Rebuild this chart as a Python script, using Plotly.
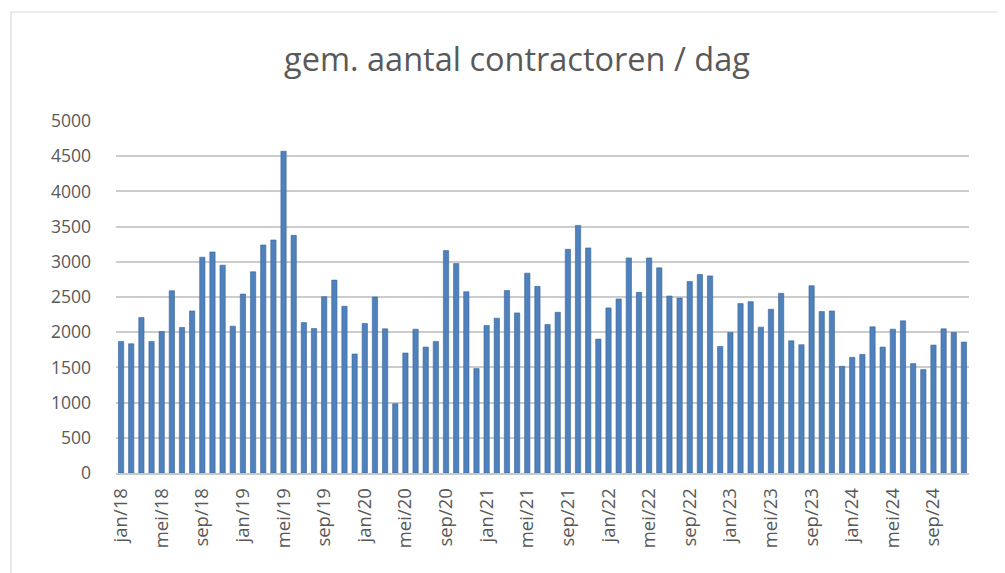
import plotly.graph_objects as go

maanden = ["jan", "feb", "mrt", "apr", "mei", "jun", "jul", "aug", "sep", "okt", "nov", "dec"]
jaren = ["18", "19", "20", "21", "22", "23", "24"]
categorieen = [f"{m}/{j}" for j in jaren for m in maanden]

waarden = [
    1869, 1836, 2208, 1869, 2010, 2589, 2067, 2302, 3065, 3140, 2952, 2086,
    2542, 2858, 3239, 3310, 4571, 3376, 2137, 2053, 2505, 2740, 2368, 1690,
    2123, 2500, 2048, 984, 1704, 2043, 1789, 1869, 3159, 2975, 2575, 1483,
    2095, 2199, 2594, 2274, 2839, 2651, 2109, 2283, 3178, 3517, 3197, 1902,
    2345, 2472, 3055, 2566, 3055, 2914, 2514, 2486, 2721, 2820, 2800, 1798,
    1996, 2406, 2434, 2072, 2326, 2552, 1878, 1822, 2660, 2293, 2302, 1516,
    1643, 1685, 2076, 1789, 2043, 2161, 1554, 1469, 1817, 2048, 1996, 1860,
]

tick_labels = categorieen[::4]
y_ticks = list(range(0, 5001, 500))

titel = "gem. aantal contractoren / dag"

# page body has an 8px margin; figure coordinates are page coordinates minus 8
OFF = 8
W, H = 997, 565
L, T = 116 - OFF, 121 - OFF
R = W - (969 - OFF)
B = H - (473 - OFF)
pw, ph = W - L - R, H - T - B

def px_x(x):
    return (x - OFF - L) / pw

def px_y(y):
    return (H - B - (y - OFF)) / ph

FONT = "'Open Sans', Lato, sans-serif"

fig = go.Figure()
fig.add_trace(go.Bar(
    x=categorieen,
    y=waarden,
    marker=dict(color="#4f81bd", line=dict(color="#3b6596", width=0.6)),
    width=0.52,
))

fig.update_layout(
    width=W, height=H,
    margin=dict(l=L, r=R, t=T, b=B),
    paper_bgcolor="white",
    plot_bgcolor="white",
    showlegend=False,
    font=dict(family=FONT, color="#595959"),
    title=dict(
        text=titel,
        x=(517 - OFF) / W, xanchor="center",
        y=1 - (60 - OFF) / H, yanchor="middle",
        font=dict(size=32.5, color="#595959", family=FONT),
    ),
    xaxis=dict(
        type="category",
        tickmode="array",
        tickvals=tick_labels,
        ticktext=tick_labels,
        tickangle=-90,
        tickfont=dict(size=18.5, color="#595959"),
        showgrid=False,
        showline=True,
        linecolor="#c8c8c8",
        linewidth=1.5,
        ticks="",
        ticklabelstandoff=6,
        range=[-0.5, len(categorieen) - 0.5],
    ),
    yaxis=dict(
        range=[0, 5000],
        tickvals=y_ticks,
        tickfont=dict(size=17.5, color="#595959"),
        showgrid=True,
        gridcolor="#cccccc",
        gridwidth=1.5,
        zeroline=False,
        ticks="",
        ticklabelstandoff=24,
    ),
    shapes=[
        dict(
            type="rect", xref="paper", yref="paper",
            x0=px_x(11), x1=px_x(1015), y0=px_y(590), y1=px_y(12),
            line=dict(color="#d9d9d9", width=1.2),
            fillcolor="rgba(0,0,0,0)",
            layer="below",
        )
    ],
)

fig.write_html("out.html")
